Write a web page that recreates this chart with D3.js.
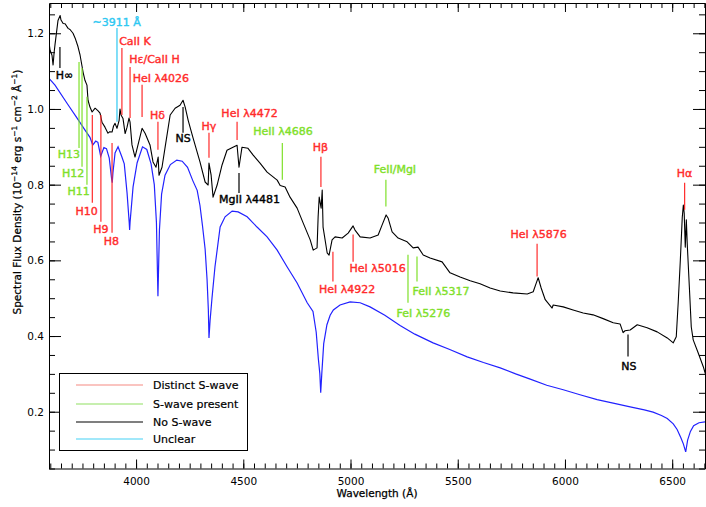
<!DOCTYPE html>
<html>
<head>
<meta charset="utf-8">
<script src="https://cdn.jsdelivr.net/npm/d3@7"></script>
<style>
  html, body { margin: 0; padding: 0; background: #fff; }
  svg { display: block; font-family: "DejaVu Sans", sans-serif; }
</style>
</head>
<body>
<svg id="chart" width="706" height="507"></svg>
<script>
// ---------------- data ----------------
const obsWavelength = [3594,3599,3608,3613,3618,3622,3636,3646,3650,3660,3669,3683,3692,3706,3716,3729,3739,3753,3762,3771,3776,3785,3795,3809,3823,3832,3841,3855,3869,3878,3888,3895,3902,3911,3921,3925,3930,3939,3949,3958,3967,3972,3981,3995,4009,4028,4042,4065,4079,4093,4103,4107,4121,4135,4159,4182,4205,4219,4229,4243,4266,4298,4322,4336,4340,4350,4359,4378,4401,4424,4452,4471,4480,4494,4522,4546,4578,4611,4658,4672,4695,4718,4751,4779,4812,4826,4844,4849,4854,4863,4868,4872,4891,4900,4914,4928,4961,4989,5012,5021,5045,5091,5129,5147,5166,5175,5194,5222,5264,5292,5315,5339,5371,5427,5464,5511,5558,5604,5651,5698,5758,5824,5852,5866,5875,5889,5908,5940,5945,5992,6038,6085,6131,6178,6225,6257,6271,6280,6304,6337,6383,6430,6477,6505,6519,6528,6538,6547,6552,6556,6561,6566,6570,6580,6589,6598,6621,6645,6659];
const obsFlux = [1.176,1.155,1.142,1.116,1.15,1.17,1.234,1.247,1.235,1.226,1.225,1.213,1.21,1.2,1.187,1.165,1.142,1.097,1.075,1.063,1.023,1.005,0.992,1.002,0.995,0.989,0.965,0.952,0.936,0.94,0.939,0.955,0.962,0.949,0.97,1.0,0.984,0.975,0.935,0.952,0.976,0.965,0.905,0.873,0.905,0.949,0.936,0.905,0.86,0.846,0.873,0.825,0.846,0.897,0.984,1.002,1.01,1.023,1.005,0.97,0.923,0.86,0.807,0.799,0.857,0.825,0.767,0.799,0.852,0.891,0.899,0.904,0.846,0.899,0.896,0.878,0.857,0.833,0.812,0.798,0.794,0.767,0.738,0.699,0.654,0.627,0.633,0.715,0.767,0.738,0.786,0.688,0.62,0.614,0.654,0.662,0.659,0.672,0.691,0.68,0.662,0.659,0.667,0.693,0.72,0.712,0.675,0.659,0.649,0.633,0.635,0.614,0.606,0.596,0.567,0.556,0.546,0.538,0.527,0.519,0.514,0.511,0.517,0.54,0.554,0.527,0.496,0.474,0.482,0.477,0.469,0.461,0.456,0.446,0.435,0.432,0.409,0.414,0.416,0.43,0.422,0.411,0.395,0.382,0.398,0.488,0.601,0.714,0.746,0.725,0.635,0.707,0.646,0.53,0.424,0.39,0.356,0.319,0.292];

const modelWavelength = [3594,3622,3678,3725,3762,3785,3798,3812,3822,3835,3850,3862,3875,3886,3889,3892,3902,3916,3934,3945,3958,3968,3970,3972,3986,4005,4030,4050,4070,4085,4095,4102,4109,4119,4135,4160,4190,4215,4240,4265,4285,4298,4310,4322,4331,4337,4340,4345,4354,4368,4392,4415,4448,4476,4518,4564,4611,4658,4704,4751,4798,4825,4840,4850,4857,4861,4866,4875,4890,4905,4920,4951,4998,5045,5091,5160,5231,5300,5385,5460,5544,5620,5698,5770,5838,5915,5992,6070,6150,6230,6304,6370,6411,6450,6477,6505,6523,6540,6552,6563,6572,6585,6600,6625,6653];
const modelFlux = [1.081,1.063,1.015,0.976,0.944,0.925,0.905,0.915,0.912,0.875,0.898,0.895,0.87,0.815,0.805,0.83,0.884,0.9,0.873,0.855,0.778,0.70,0.68,0.70,0.794,0.858,0.9,0.893,0.855,0.8,0.7,0.505,0.68,0.775,0.825,0.853,0.865,0.862,0.846,0.81,0.785,0.745,0.69,0.63,0.55,0.47,0.395,0.44,0.5,0.583,0.688,0.715,0.73,0.728,0.715,0.688,0.662,0.627,0.583,0.54,0.488,0.465,0.41,0.34,0.30,0.25,0.30,0.38,0.43,0.455,0.469,0.482,0.49,0.488,0.477,0.455,0.428,0.405,0.382,0.365,0.345,0.33,0.316,0.30,0.286,0.27,0.258,0.245,0.232,0.222,0.213,0.205,0.199,0.19,0.182,0.168,0.153,0.132,0.115,0.094,0.125,0.148,0.163,0.171,0.173];

// line identifications
const lineLabels = ["H∞","~3911 Å","CaII K","Hε/CaII H","HeI λ4026","Hδ","NS","Hγ","HeI λ4472","MgII λ4481","HeII λ4686","Hβ","FeII/MgI","HeI λ4922","HeI λ5016","FeII λ5317","FeI λ5276","HeI λ5876","NS","Hα","H13","H12","H11","H10","H9","H8"];
const lineClass = ["none","unclear","distinct","distinct","distinct","distinct","none","distinct","distinct","none","present","distinct","present","distinct","distinct","present","present","distinct","none","distinct","present","present","present","distinct","distinct","distinct"];
const lineWavelength = [3645,3911,3934,3972,4028,4102,4219,4340,4471,4480,4682,4862,5165,4918,5012,5310,5268,5870,6294,6558,3734,3748,3771,3796,3836,3888];
const lineTopFlux = [1.164,1.214,1.161,1.111,1.064,0.966,1.005,0.937,0.966,0.831,0.910,0.874,0.813,0.623,0.668,0.610,0.615,0.644,0.404,0.805,1.124,1.108,1.032,0.984,0.984,0.910];
const lineBottomFlux = [1.108,0.966,0.984,0.976,0.979,0.892,0.937,0.871,0.918,0.778,0.813,0.794,0.742,0.544,0.596,0.544,0.488,0.557,0.346,0.734,0.897,0.847,0.800,0.752,0.702,0.673];
const labelWavelength = [3666,3909,3995,4086,4116,4100,4219,4340,4529,4529,4685,4860,5207,4984,5126,5422,5340,5877,6298,6557,3687,3706,3732,3769,3836,3885];
const labelFlux = [1.080,1.219,1.169,1.122,1.071,0.974,0.913,0.945,0.979,0.752,0.932,0.889,0.831,0.515,0.570,0.509,0.451,0.660,0.309,0.821,0.871,0.821,0.773,0.720,0.673,0.641];

const legendKeys = ["distinct","present","none","unclear"];
const legendNames = ["Distinct S-wave","S-wave present","No S-wave","Unclear"];

const xMajorTicks = [4000,4500,5000,5500,6000,6500];
const yMajorTicks = [0.2,0.4,0.6,0.8,1.0,1.2];

// ---------------- drawing ----------------
const svg = d3.select("#chart");
const pLeft = 49, pRight = 705, pTop = 3, pBottom = 468.5;

const x = d3.scaleLinear().domain([3594, 6653]).range([pLeft, pRight]);
const y = d3.scaleLinear().domain([0.05, 1.28]).range([pBottom, pTop]);

const textColor = {distinct:"#ff2b2b", present:"#7fe02a", none:"#000000", unclear:"#2ec8f2"};
const legendColor = {distinct:"#f58a82", present:"#8fe060", none:"#000000", unclear:"#45d2f5"};

svg.append("clipPath").attr("id", "plotclip").append("rect")
  .attr("x", pLeft).attr("y", pTop).attr("width", pRight - pLeft).attr("height", pBottom - pTop);

const plot = svg.append("g").attr("clip-path", "url(#plotclip)");

const model = modelWavelength.map((w, i) => [w, modelFlux[i]]);
const obs = obsWavelength.map((w, i) => [w, obsFlux[i]]);

const lineGen = d3.line().x(d => x(d[0])).y(d => y(d[1]));

plot.append("path").datum(model)
  .attr("d", lineGen).attr("fill", "none")
  .attr("stroke", "#2222ff").attr("stroke-width", 1.2);

plot.append("path").datum(obs)
  .attr("d", lineGen).attr("fill", "none")
  .attr("stroke", "#000").attr("stroke-width", 1.1).attr("stroke-linejoin", "round");

// identification lines and labels
const ann = svg.append("g");
lineLabels.forEach((lab, i) => {
  const c = textColor[lineClass[i]];
  ann.append("line")
    .attr("x1", x(lineWavelength[i])).attr("x2", x(lineWavelength[i]))
    .attr("y1", y(lineTopFlux[i])).attr("y2", y(lineBottomFlux[i]))
    .attr("stroke", c).attr("stroke-width", 1.2);
  ann.append("text")
    .attr("x", x(labelWavelength[i])).attr("y", y(labelFlux[i]))
    .attr("text-anchor", "middle")
    .attr("font-size", 11)
    .attr("fill", c).attr("stroke", c).attr("stroke-width", 0.4)
    .text(lab);
});

// axes
const fmt = d3.format(".1f");
const minorX = d3.range(3600, 6651, 50);
const minorY = d3.range(0.05, 1.2751, 0.05);

svg.append("g").attr("transform", `translate(0,${pBottom})`)
  .call(d3.axisBottom(x).tickValues(minorX).tickSize(-5).tickFormat(""))
  .call(g => g.select(".domain").remove());
svg.append("g").attr("transform", `translate(0,${pBottom})`)
  .call(d3.axisBottom(x).tickValues(xMajorTicks).tickSize(-9).tickPadding(9).tickSizeOuter(0).tickFormat(d3.format("d")))
  .call(g => g.selectAll("text").attr("font-size", 10.5).attr("font-family", "DejaVu Sans"));

svg.append("g").attr("transform", `translate(0,${pTop})`)
  .call(d3.axisTop(x).tickValues(minorX).tickSize(-5).tickFormat(""))
  .call(g => g.select(".domain").remove());
svg.append("g").attr("transform", `translate(0,${pTop})`)
  .call(d3.axisTop(x).tickValues(xMajorTicks).tickSize(-9).tickFormat("").tickSizeOuter(0));

svg.append("g").attr("transform", `translate(${pLeft},0)`)
  .call(d3.axisLeft(y).tickValues(minorY).tickSize(-6).tickFormat(""))
  .call(g => g.select(".domain").remove());
svg.append("g").attr("transform", `translate(${pLeft},0)`)
  .call(d3.axisLeft(y).tickValues(yMajorTicks).tickSize(-12).tickPadding(5).tickFormat(fmt).tickSizeOuter(0))
  .call(g => g.selectAll("text").attr("font-size", 10.5).attr("font-family", "DejaVu Sans"));

svg.append("g").attr("transform", `translate(${pRight},0)`)
  .call(d3.axisRight(y).tickValues(minorY).tickSize(-6).tickFormat(""))
  .call(g => g.select(".domain").remove());
svg.append("g").attr("transform", `translate(${pRight},0)`)
  .call(d3.axisRight(y).tickValues(yMajorTicks).tickSize(-12).tickFormat("").tickSizeOuter(0));

// axis titles
svg.append("text")
  .attr("x", (pLeft + pRight) / 2).attr("y", 497)
  .attr("text-anchor", "middle").attr("font-size", 10.5)
  .attr("stroke", "#000").attr("stroke-width", 0.25)
  .text("Wavelength (Å)");

const yt = svg.append("text")
  .attr("transform", "translate(21,192) rotate(-90)")
  .attr("text-anchor", "middle").attr("font-size", 10.5)
  .attr("stroke", "#000").attr("stroke-width", 0.25);
const parts = [["Spectral Flux Density (10", false], ["−14", true], [" erg s", false], ["−1", true], [" cm", false], ["−2", true], [" Å", false], ["−1", true], [")", false]];
let wasSup = false;
parts.forEach(([t, sup]) => {
  const ts = yt.append("tspan").text(t);
  if (sup) { ts.attr("font-size", 7.5).attr("dy", wasSup ? 0 : -4); }
  else if (wasSup) { ts.attr("dy", 4); }
  wasSup = sup;
});

// legend
const lg = svg.append("g");
lg.append("rect").attr("x", 59.5).attr("y", 373.5).attr("width", 188).attr("height", 77)
  .attr("fill", "#fff").attr("stroke", "#000").attr("stroke-width", 1);
const rowY = [385, 404, 422, 439];
legendKeys.forEach((k, i) => {
  lg.append("line").attr("x1", 76).attr("x2", 143).attr("y1", rowY[i]).attr("y2", rowY[i])
    .attr("stroke", legendColor[k]).attr("stroke-width", 1.2);
  lg.append("text").attr("x", 153).attr("y", rowY[i]).attr("dy", "0.36em")
    .attr("font-size", 11).attr("fill", "#000").attr("stroke", "#000").attr("stroke-width", 0.2)
    .text(legendNames[i]);
});
</script>
</body>
</html>
